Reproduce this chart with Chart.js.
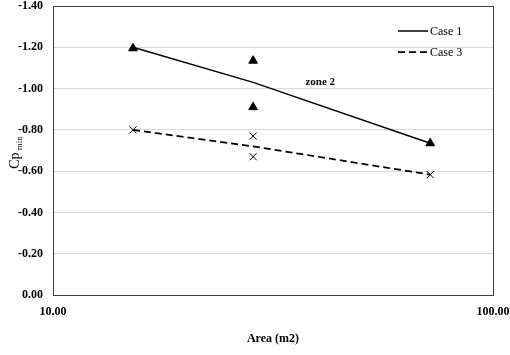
<!DOCTYPE html>
<html>
<head>
<meta charset="utf-8">
<script src="https://cdn.jsdelivr.net/npm/chart.js@4"></script>
<style>
  html, body { margin: 0; padding: 0; background: #fff; }
  #wrap { width: 510px; height: 355px; }
</style>
</head>
<body>
<div id="wrap"><canvas id="cp"></canvas></div>
<script>
// ---- data ----
const xTicks = [10, 100];

// fitted lines (through the mean value at the middle area)
const case1LineX = [15.2, 28.5, 72];
const case1LineY = [-1.20, -1.03, -0.735];
const case3LineX = [15.2, 28.5, 72];
const case3LineY = [-0.80, -0.72, -0.583];

// measured points
const case1PtsX = [15.2, 28.5, 28.5, 72];
const case1PtsY = [-1.195, -1.135, -0.91, -0.735];
const case3PtsX = [15.2, 28.5, 28.5, 72];
const case3PtsY = [-0.80, -0.77, -0.67, -0.583];

const zoneLabel = { text: 'zone 2', x: 40.5, y: -1.03 };

const FONT = "'Liberation Serif', 'Times New Roman', serif";

const toPts = (xs, ys) => xs.map((x, i) => ({ x, y: ys[i] }));

// frame, legend, annotation and y title with subscript
const extrasPlugin = {
  id: 'extras',
  afterDraw(chart) {
    const { ctx, chartArea: a, scales: { x, y } } = chart;
    ctx.save();

    // plot frame
    ctx.strokeStyle = '#404040';
    ctx.lineWidth = 1;
    ctx.strokeRect(Math.round(a.left) + 0.5, Math.round(a.top) + 0.5,
                   Math.round(a.right - a.left), Math.round(a.bottom - a.top));

    // zone label
    ctx.fillStyle = '#000';
    ctx.font = 'bold 11px ' + FONT;
    ctx.textAlign = 'center';
    ctx.textBaseline = 'middle';
    ctx.fillText(zoneLabel.text, x.getPixelForValue(zoneLabel.x), y.getPixelForValue(zoneLabel.y));

    // legend (line datasets only)
    const items = chart.data.datasets.filter(d => d.inLegend);
    ctx.font = '12px ' + FONT;
    ctx.textAlign = 'left';
    items.forEach((d, i) => {
      const ly = a.top + 25 + i * 21;
      ctx.strokeStyle = d.borderColor;
      ctx.lineWidth = d.borderWidth;
      ctx.setLineDash(d.borderDash || []);
      ctx.beginPath();
      ctx.moveTo(a.right - 95, ly);
      ctx.lineTo(a.right - 65, ly);
      ctx.stroke();
      ctx.setLineDash([]);
      ctx.fillText(d.label, a.right - 63, ly + 1);
    });

    // y axis title "Cp min"
    const cx = 14, cy = (a.top + a.bottom) / 2 + 2;
    ctx.translate(cx, cy);
    ctx.rotate(-Math.PI / 2);
    ctx.textAlign = 'left';
    ctx.textBaseline = 'alphabetic';
    ctx.font = '14px ' + FONT;
    const w1 = ctx.measureText('Cp').width;
    ctx.font = '9px ' + FONT;
    const w2 = ctx.measureText(' min').width;
    const start = -(w1 + w2) / 2;
    ctx.font = '14px ' + FONT;
    ctx.fillText('Cp', start, 5);
    ctx.font = '9px ' + FONT;
    ctx.fillText(' min', start + w1, 8);
    ctx.restore();
  }
};

new Chart(document.getElementById('cp'), {
  type: 'scatter',
  data: {
    datasets: [
      {
        label: 'Case 1',
        inLegend: true,
        data: toPts(case1LineX, case1LineY),
        showLine: true,
        borderColor: '#000',
        borderWidth: 1.5,
        pointRadius: 0,
        fill: false
      },
      {
        label: 'Case 3',
        inLegend: true,
        data: toPts(case3LineX, case3LineY),
        showLine: true,
        borderColor: '#000',
        borderWidth: 1.75,
        borderDash: [7, 4],
        pointRadius: 0,
        fill: false
      },
      {
        label: 'Case 1 pts',
        data: toPts(case1PtsX, case1PtsY),
        pointStyle: 'triangle',
        pointRadius: 5,
        backgroundColor: '#000',
        borderColor: '#000',
        borderWidth: 1
      },
      {
        label: 'Case 3 pts',
        data: toPts(case3PtsX, case3PtsY),
        pointStyle: 'crossRot',
        pointRadius: 5,
        backgroundColor: '#000',
        borderColor: '#000',
        borderWidth: 1
      }
    ]
  },
  options: {
    responsive: true,
    maintainAspectRatio: false,
    animation: false,
    layout: { padding: { left: 0, right: 17, top: 5, bottom: 0 } },
    scales: {
      x: {
        type: 'logarithmic',
        min: 10,
        max: 100,
        afterBuildTicks(scale) {
          scale.ticks = xTicks.map(v => ({ value: v }));
        },
        afterFit(scale) {
          scale.height = 60;
          scale.paddingLeft = 0;
          scale.paddingRight = 0;
        },
        ticks: {
          color: '#000',
          padding: 10,
          font: { family: FONT, size: 12, weight: 'bold' },
          maxRotation: 0,
          callback: v => Number(v).toFixed(2)
        },
        grid: { display: false, drawTicks: false },
        border: { display: false },
        title: {
          display: true,
          text: 'Area (m2)',
          color: '#000',
          font: { family: FONT, size: 12, weight: 'bold' },
          padding: { top: 0, bottom: 9 }
        }
      },
      y: {
        reverse: true,
        min: -1.4,
        max: 0,
        afterFit(scale) {
          scale.width = 53;
          scale.paddingTop = 0;
          scale.paddingBottom = 0;
        },
        ticks: {
          stepSize: 0.2,
          color: '#000',
          padding: 10,
          font: { family: FONT, size: 12, weight: 'bold' },
          callback: v => Number(v).toFixed(2)
        },
        grid: { color: '#d9d9d9', lineWidth: 1, drawTicks: false },
        border: { display: false }
      }
    },
    plugins: {
      legend: { display: false },
      tooltip: { enabled: false }
    }
  },
  plugins: [extrasPlugin]
});
</script>
</body>
</html>
